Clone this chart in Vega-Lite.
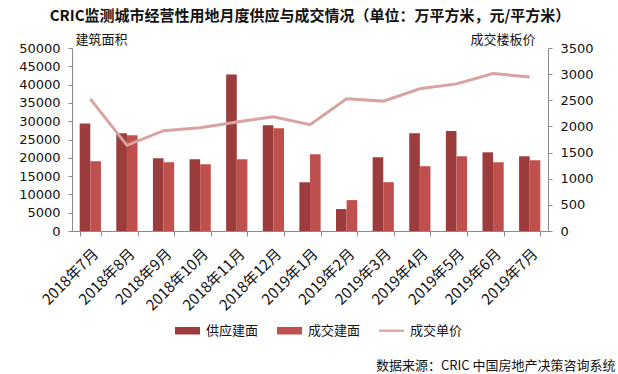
{
  "$schema": "https://vega.github.io/schema/vega-lite/v6.json",
  "width": 476,
  "height": 183,
  "autosize": "none",
  "padding": {"left": 72, "top": 48, "right": 70, "bottom": 143},
  "background": "white",
  "config": {
    "view": {"stroke": null},
    "font": "Noto Sans CJK SC",
    "axis": {"grid": false, "domainColor": "#8a8a8a", "tickColor": "#8a8a8a", "labelColor": "#111", "labelFont": "DejaVu Sans", "labelFontSize": 13, "titleFontWeight": "normal", "titleFont": "Noto Sans CJK SC", "titleFontSize": 13, "titleColor": "#111"}
  },
  "title": {
    "text": "CRIC监测城市经营性用地月度供应与成交情况（单位：万平方米，元/平方米）",
    "fontSize": 15,
    "fontWeight": "bold",
    "font": "Noto Sans CJK SC",
    "anchor": "middle",
    "offset": 9,
    "color": "#111"
  },
  "data": {
    "values": [
      {"month": "2018年7月", "供应建面": 29400, "成交建面": 19060, "成交单价": 2528},
      {"month": "2018年8月", "供应建面": 26680, "成交建面": 26130, "成交单价": 1639},
      {"month": "2018年9月", "供应建面": 19875, "成交建面": 18780, "成交单价": 1918},
      {"month": "2018年10月", "供应建面": 19600, "成交建面": 18240, "成交单价": 1975},
      {"month": "2018年11月", "供应建面": 42740, "成交建面": 19600, "成交单价": 2083},
      {"month": "2018年12月", "供应建面": 28860, "成交建面": 28040, "成交单价": 2185},
      {"month": "2019年1月", "供应建面": 13340, "成交建面": 20960, "成交单价": 2033},
      {"month": "2019年2月", "供应建面": 5990, "成交建面": 8440, "成交单价": 2528},
      {"month": "2019年3月", "供应建面": 20150, "成交建面": 13340, "成交单价": 2484},
      {"month": "2019年4月", "供应建面": 26680, "成交建面": 17700, "成交单价": 2719},
      {"month": "2019年5月", "供应建面": 27310, "成交建面": 20420, "成交单价": 2814},
      {"month": "2019年6月", "供应建面": 21500, "成交建面": 18780, "成交单价": 3011},
      {"month": "2019年7月", "供应建面": 20420, "成交建面": 19330, "成交单价": 2947}
    ]
  },
  "encoding": {
    "x": {
      "field": "month",
      "type": "ordinal",
      "sort": null,
      "scale": {"paddingInner": 0.42, "paddingOuter": 0.21},
      "axis": {
        "labelAngle": -45,
        "labelFont": "Noto Sans CJK SC",
        "labelFontSize": 15,
        "labelPadding": 10,
        "labelOverlap": false,
        "tickBand": "extent",
        "tickSize": 5,
        "title": "数据来源：CRIC 中国房地产决策咨询系统",
        "titleAngle": 0,
        "titleAlign": "right",
        "titleBaseline": "middle",
        "titleX": 543,
        "titleY": 134,
        "titleFontSize": 13
      }
    }
  },
  "layer": [
    {
      "transform": [{"fold": ["供应建面", "成交建面"], "as": ["series", "value"]}],
      "mark": {"type": "bar"},
      "encoding": {
        "xOffset": {"field": "series", "type": "nominal", "sort": ["供应建面", "成交建面"], "scale": {"paddingInner": 0, "paddingOuter": 0}},
        "y": {
          "field": "value",
          "type": "quantitative",
          "scale": {"domain": [0, 50000], "nice": false},
          "axis": {
            "values": [0, 5000, 10000, 15000, 20000, 25000, 30000, 35000, 40000, 45000, 50000],
            "format": "d",
            "tickSize": 4,
            "labelPadding": 8,
            "title": "建筑面积",
            "titleAngle": 0,
            "titleAlign": "left",
            "titleBaseline": "bottom",
            "titleX": 3,
            "titleY": -2
          }
        },
        "color": {
          "field": "series",
          "type": "nominal",
          "scale": {"domain": ["供应建面", "成交建面", "成交单价"], "range": ["#9c3c3c", "#c0504d", "#d9a3a3"]},
          "legend": {
            "orient": "none",
            "direction": "horizontal",
            "legendX": 103,
            "legendY": 270,
            "title": null,
            "labelFont": "Noto Sans CJK SC",
            "labelFontSize": 13,
            "labelColor": "#111",
            "symbolSize": 625,
            "columnPadding": 18,
            "labelOffset": 6,
            "symbolStrokeWidth": 0,
            "encode": {
              "symbols": {
                "update": {
                  "shape": {"signal": "datum.value === '成交单价' ? 'M-1,-0.09H1V0.09H-1Z' : 'M-1,-0.3H1V0.3H-1Z'"}
                }
              }
            }
          }
        }
      }
    },
    {
      "mark": {"type": "line", "strokeWidth": 3},
      "encoding": {
        "y": {
          "field": "成交单价",
          "type": "quantitative",
          "scale": {"domain": [0, 3500], "nice": false},
          "axis": {
            "orient": "right",
            "values": [0, 500, 1000, 1500, 2000, 2500, 3000, 3500],
            "format": "d",
            "tickSize": 4,
            "labelPadding": 8,
            "title": "成交楼板价",
            "titleAngle": 0,
            "titleAlign": "right",
            "titleBaseline": "bottom",
            "titleX": -13,
            "titleY": -2
          }
        },
        "color": {"datum": "成交单价", "type": "nominal"}
      }
    }
  ],
  "resolve": {"scale": {"y": "independent"}}
}
